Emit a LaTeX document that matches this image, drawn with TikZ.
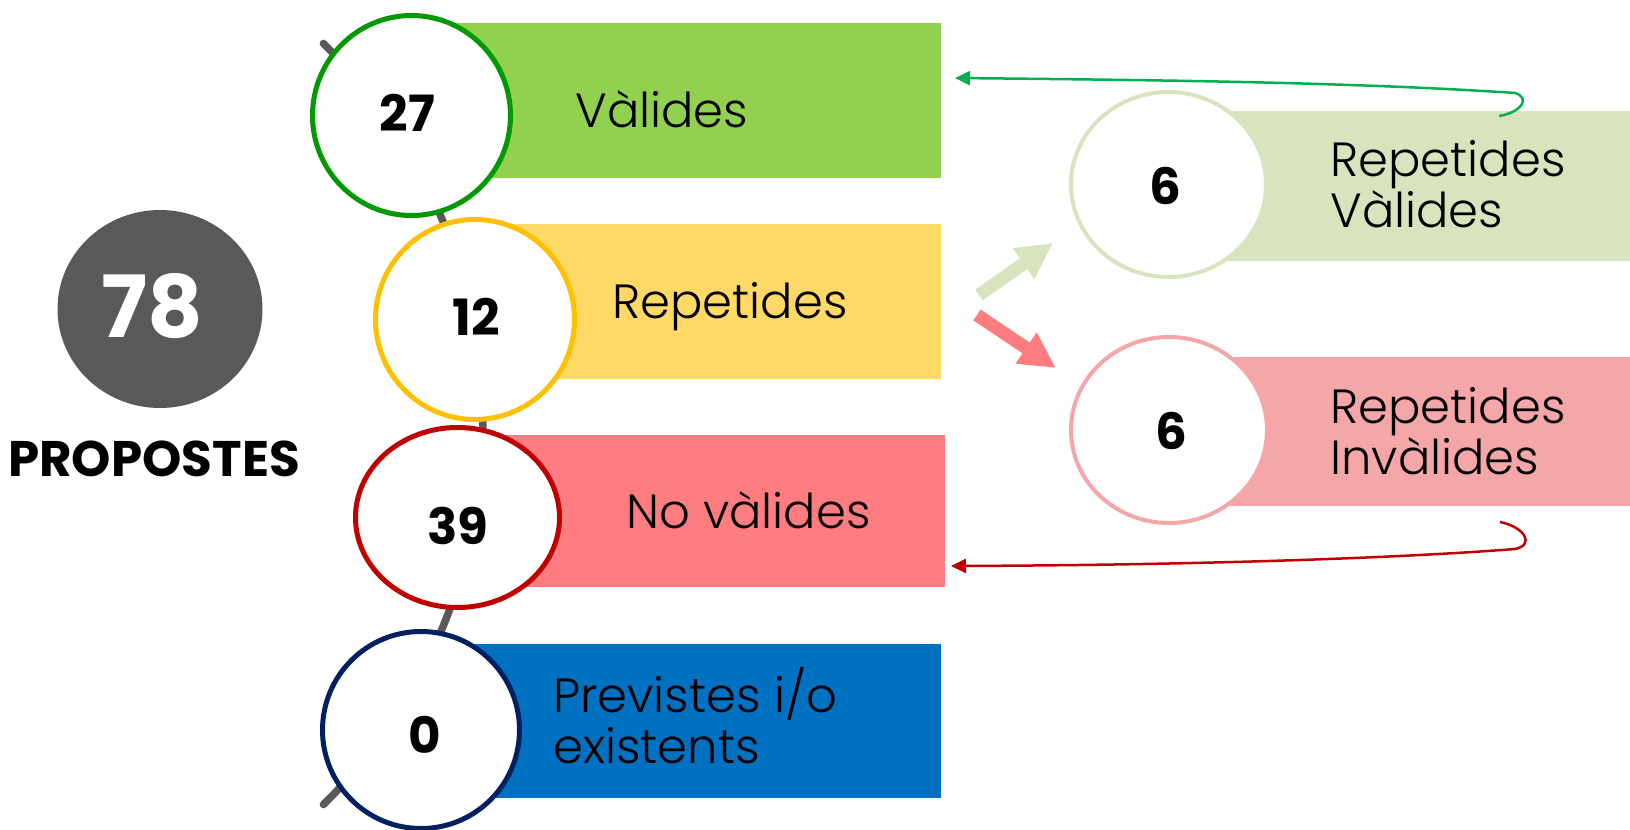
\documentclass[tikz,border=0pt]{standalone}
\usepackage{fontspec}
\setmainfont{Poppins}
\IfFontExistsTF{Poppins Light}{\newfontfamily\lblfont{Poppins Light}}{\newfontfamily\lblfont{Poppins}}
\usetikzlibrary{arrows.meta,shapes.geometric,fit,positioning}

\definecolor{totgray}{HTML}{595959}
\definecolor{barval}{HTML}{92D050}
\definecolor{ringval}{HTML}{009900}
\definecolor{barrep}{HTML}{FFD966}
\definecolor{ringrep}{HTML}{FFC000}
\definecolor{barno}{HTML}{FF7C80}
\definecolor{ringno}{HTML}{C00000}
\definecolor{barprev}{HTML}{0070C0}
\definecolor{ringprev}{HTML}{002060}
\definecolor{rvfill}{HTML}{D7E4BD}
\definecolor{rifill}{HTML}{F5A6A8}
\definecolor{linkgreen}{HTML}{00B050}

\begin{document}
\begin{tikzpicture}[x=0.5pt,y=-0.5pt,
        bar/.style={inner sep=0pt,outer sep=0pt},
        ring/.style={ellipse,fill=white,line width=2.5pt,inner sep=0pt,outer sep=0pt},
        num/.style={font=\fontsize{25}{25}\selectfont\bfseries,inner sep=0pt},
        lbl/.style={font=\lblfont\fontsize{24}{25.5}\selectfont,inner sep=0pt,anchor=base west,align=left},
        fatarrow/.style={line width=6.5pt,-{Triangle[length=18pt,width=17.5pt]}},
        backarrow/.style={line width=1.25pt,-{Triangle[length=7.5pt,width=7pt]}}]
    \useasboundingbox (0,0) rectangle (1630,830);

    % total
    \node[ellipse,fill=totgray,inner sep=0pt,minimum width=102.5pt,minimum height=99pt] (totcirc) at (160,309) {};
    \node[font=\fontsize{43}{43}\selectfont\bfseries,text=white,inner sep=0pt] (totnum) at (152,306) {78};
    \node[font=\fontsize{25}{25}\selectfont\bfseries,inner sep=0pt] (totlbl) at (154,459) {PROPOSTES};

    % spine behind the circles
    \draw[totgray,line width=3.75pt,line cap=round] plot[domain=-45.5:45.5,samples=60] ({-50.6+533.6*cos(\x)},{424+533.6*sin(\x)});

    \node[bar,fill=barval,fit={(411.5,23) (941,178)}] (valbar) {};
    \node[bar,fill=barrep,fit={(475,224) (941,379)}] (repbar) {};
    \node[bar,fill=barno,fit={(457.5,435) (945,587)}] (novbar) {};
    \node[bar,fill=barprev,fit={(421,644) (941,798)}] (prevbar) {};
    \node[bar,fill=rvfill,fit={(1168.5,111) (1630,261)}] (rvbar) {};
    \node[bar,fill=rifill,fit={(1169,357) (1630,506)}] (ribar) {};

    \node[ring,draw=ringval,minimum width=99pt,minimum height=100pt] (valcirc) at (411.5,115.5) {};
    \node[ring,draw=ringrep,minimum width=99.5pt,minimum height=100pt] (repcirc) at (475,319.5) {};
    \node[ring,draw=ringno,minimum width=102pt,minimum height=90pt] (novcirc) at (457.5,517.5) {};
    \node[ring,draw=ringprev,minimum width=98.5pt,minimum height=98.5pt] (prevcirc) at (421,730) {};
    \node[ring,draw=rvfill,line width=2pt,minimum width=97.5pt,minimum height=92.5pt] (rvcirc) at (1168.5,184.5) {};
    \node[ring,draw=rifill,line width=2pt,minimum width=98pt,minimum height=93pt] (ricirc) at (1169,430) {};

    \node[num] (valnum) at (407.5,113) {27};
    \node[num] (repnum) at (476,316.5) {12};
    \node[num] (novnum) at (457.5,526) {39};
    \node[num] (prevnum) at (424.5,734.5) {0};
    \node[num] (rvnum) at (1165,186) {6};
    \node[num] (rinum) at (1171,431) {6};

    \node[lbl] (valtext) at (575,127) {Vàlides};
    \node[lbl] (reptext) at (612,318) {Repetides};
    \node[lbl] (novtext) at (626,528) {No vàlides};
    \node[lbl] (prevtext) at (553,763) {Previstes i/o\\existents};
    \node[lbl] (rvtext) at (1330,227) {Repetides\\Vàlides};
    \node[lbl] (ritext) at (1330,474) {Repetides\\Invàlides};

    \draw[fatarrow,draw=rvfill] ([shift={(38,-6.5)}]repbar.east) -- ([shift={(-18,58.5)}]rvcirc.west);
    \draw[fatarrow,draw=barno] ([shift={(36,13.5)}]repbar.east) -- ([shift={(-15,-62)}]ricirc.west);

    \draw[backarrow,draw=linkgreen] ([shift={(100,5)}]rvbar.north) .. controls +(23,-4) and +(15,5) .. ++(16,-23)
        .. controls +(-165,-11) and +(195,2) .. ([shift={(14,-22.5)}]valbar.east);
    \draw[backarrow,draw=ringno] ([shift={(100.5,16)}]ribar.south) .. controls +(25,5) and +(20,-4) .. ++(15,27)
        .. controls +(-115,9) and +(249,-1) .. ([shift={(6,55)}]novbar.east);
\end{tikzpicture}
\end{document}
